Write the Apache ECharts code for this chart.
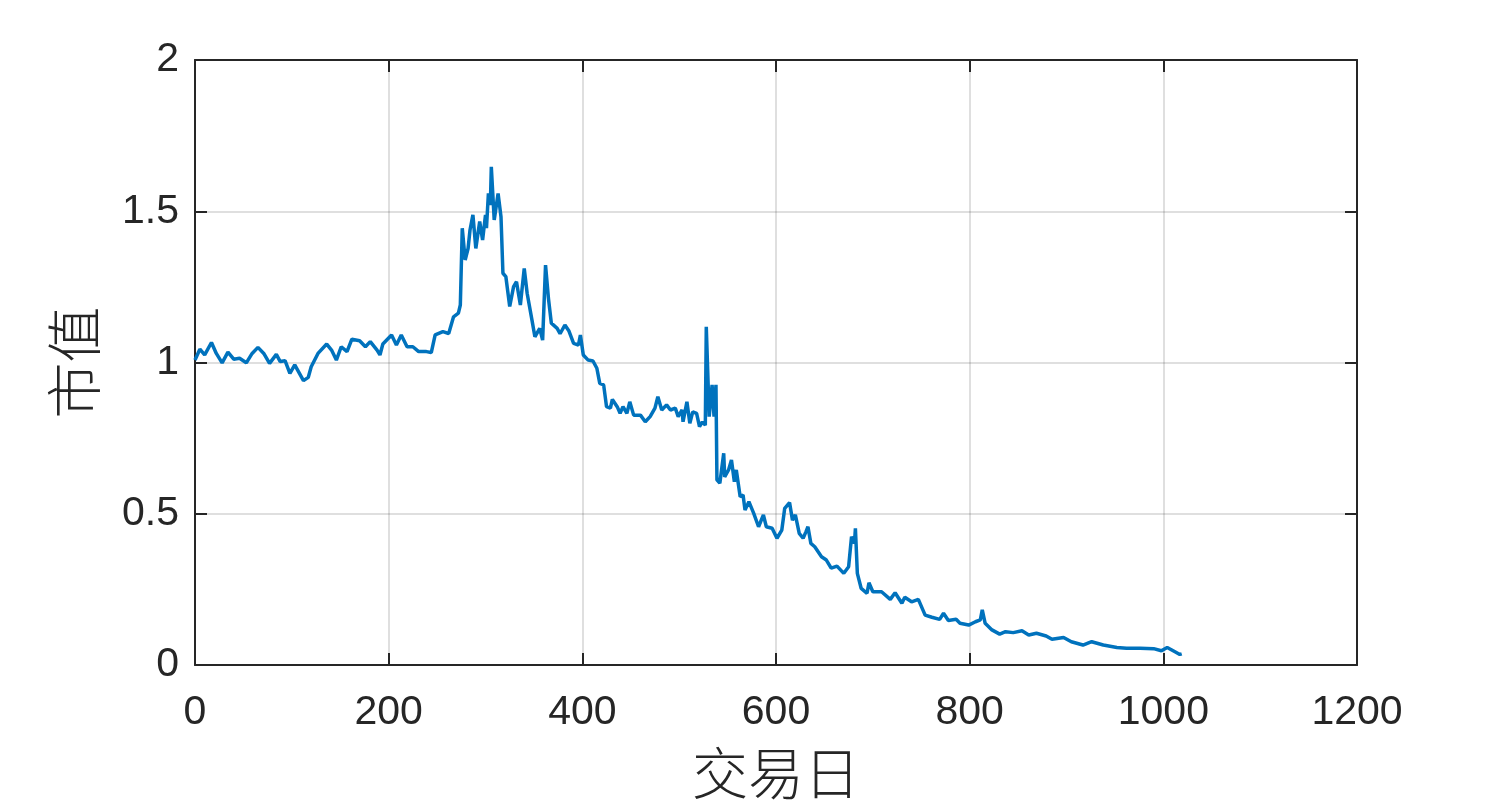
<!DOCTYPE html>
<html><head><meta charset="utf-8">
<script src="https://cdn.jsdelivr.net/npm/echarts@6/dist/echarts.min.js"></script>
<style>html,body{margin:0;padding:0;background:#fff}#c{width:1500px;height:807px}</style>
</head><body><div id="c"></div>
<script>
const days = [0,5,10,17,22,28,34,40,46,53,59,65,71,77,84,88,93,98,103,112,117,120,127,136,141,146,151,157,162,170,176,181,188,191,194,203,208,213,219,225,231,239,244,248,256,262,267,272,274,276,279,282,284,287,290,294,297,300,301,303,305,306,309,313,316,318,321,325,329,332,336,340,343,348,351,356,359,362,365,368,374,377,382,386,391,396,398,401,406,411,415,418,422,425,429,431,436,439,442,446,449,453,460,465,470,475,478,482,487,491,496,499,503,504,508,511,514,518,521,524,527,528,531,534,536,538,539,542,546,547,551,554,557,559,563,566,568,572,577,582,587,590,596,601,606,609,614,617,620,624,628,631,633,636,640,647,652,657,663,670,675,678,681,682,684,688,694,696,700,709,718,723,730,733,740,747,754,761,769,773,778,786,790,799,806,811,813,816,823,831,837,845,854,861,869,879,885,897,905,917,926,938,952,962,976,990,998,1004,1012,1017,1019];
const values = [1.008,1.044,1.025,1.066,1.030,0.999,1.034,1.011,1.014,0.999,1.030,1.050,1.030,0.997,1.027,1.003,1.006,0.964,0.992,0.940,0.951,0.986,1.030,1.061,1.041,1.008,1.052,1.036,1.077,1.072,1.052,1.069,1.041,1.025,1.061,1.091,1.058,1.091,1.052,1.052,1.036,1.036,1.033,1.091,1.102,1.096,1.151,1.163,1.190,1.444,1.339,1.377,1.438,1.488,1.377,1.466,1.405,1.488,1.444,1.559,1.521,1.647,1.471,1.559,1.482,1.295,1.284,1.185,1.251,1.267,1.190,1.311,1.229,1.140,1.085,1.113,1.074,1.322,1.212,1.130,1.113,1.095,1.124,1.105,1.063,1.058,1.091,1.025,1.008,1.005,0.981,0.931,0.926,0.854,0.849,0.878,0.854,0.832,0.854,0.832,0.870,0.826,0.826,0.804,0.821,0.849,0.887,0.843,0.860,0.843,0.849,0.821,0.843,0.804,0.870,0.799,0.837,0.832,0.788,0.804,0.793,1.118,0.821,0.926,0.821,0.926,0.612,0.601,0.700,0.622,0.645,0.678,0.606,0.645,0.556,0.562,0.512,0.540,0.501,0.457,0.496,0.457,0.452,0.419,0.446,0.518,0.537,0.479,0.496,0.435,0.419,0.441,0.457,0.402,0.391,0.358,0.347,0.320,0.327,0.303,0.325,0.424,0.402,0.452,0.303,0.253,0.237,0.272,0.242,0.242,0.217,0.239,0.204,0.224,0.209,0.217,0.165,0.158,0.151,0.171,0.147,0.151,0.138,0.132,0.143,0.149,0.182,0.138,0.116,0.102,0.110,0.107,0.113,0.099,0.105,0.096,0.085,0.091,0.077,0.066,0.077,0.066,0.058,0.055,0.055,0.054,0.047,0.058,0.044,0.035,0.037];
const xLabel = '交易日';
const yLabel = '市值';

const axisColor = '#262626';
const gridColor = 'rgba(38,38,38,0.15)';
const tickFont = {fontFamily: 'Liberation Sans, Arial, sans-serif', fontSize: 41, color: axisColor};
const cjkFont = {fontFamily: 'Noto Sans CJK SC', fontSize: 56, fontWeight: 300, color: axisColor};

const chart = echarts.init(document.getElementById('c'), null, {renderer: 'canvas'});
const baseAxis = {
  axisLine: {show: true, onZero: false, lineStyle: {color: axisColor, width: 2}},
  axisTick: {show: true, inside: true, length: 12, lineStyle: {color: axisColor, width: 2}},
};
chart.setOption({
  animation: false,
  backgroundColor: '#fff',
  grid: {left: 195, right: 143, top: 60, bottom: 142},
  xAxis: [
    Object.assign({type: 'value', min: 0, max: 1200, interval: 200, position: 'bottom',
      name: xLabel, nameLocation: 'middle', nameGap: 80, nameTextStyle: cjkFont,
      axisLabel: Object.assign({margin: 27, formatter: v => String(v)}, tickFont),
      splitLine: {show: true, lineStyle: {color: gridColor, width: 2}}}, baseAxis),
    Object.assign({type: 'value', min: 0, max: 1200, interval: 200, position: 'top',
      axisLabel: {show: false}, splitLine: {show: false}}, baseAxis)
  ],
  yAxis: [
    Object.assign({type: 'value', min: 0, max: 2, interval: 0.5, position: 'left',
      name: yLabel, nameLocation: 'middle', nameGap: 93, nameTextStyle: cjkFont,
      axisLabel: Object.assign({margin: 16, formatter: v => String(v)}, tickFont),
      splitLine: {show: true, lineStyle: {color: gridColor, width: 2}}}, baseAxis),
    Object.assign({type: 'value', min: 0, max: 2, interval: 0.5, position: 'right',
      axisLabel: {show: false}, splitLine: {show: false}}, baseAxis)
  ],
  series: [{
    type: 'line',
    data: days.map((d, i) => [d, values[i]]),
    showSymbol: false,
    symbol: 'none',
    lineStyle: {color: '#0072BD', width: 3.5},
    itemStyle: {color: '#0072BD'}
  }]
});
</script></body></html>
